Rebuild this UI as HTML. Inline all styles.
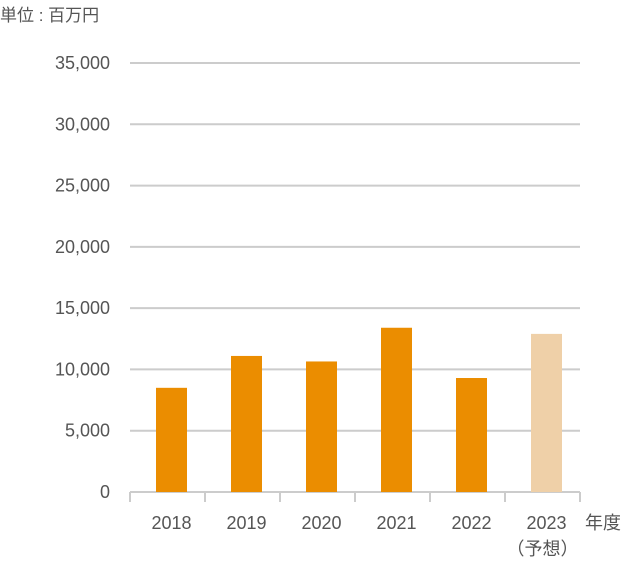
<!DOCTYPE html>
<html><head><meta charset="utf-8"><style>
body{margin:0;background:#fff;}
svg text{font-family:"Liberation Sans","Noto Sans CJK JP",sans-serif;fill:#555;}
</style></head><body>
<svg width="640" height="580">
<text x="0" y="21" font-size="17">単位 : 百万円</text>
<g id="grid"></g><g id="bars"></g><g id="xaxis"></g>
<text x="585" y="529" font-size="18">年度</text>
</svg>
<script>
const categories=["2018","2019","2020","2021","2022","2023"];
const values=[8500,11100,10650,13400,9300,12900];
const forecast=[false,false,false,false,false,true];
const yTicks=[0,5000,10000,15000,20000,25000,30000,35000];
const yTickLabels=["0","5,000","10,000","15,000","20,000","25,000","30,000","35,000"];
const NS="http://www.w3.org/2000/svg";
const y0=492,y1=63,ymax=35000,xl=130,xr=580;
const yS=v=>y0-(v/ymax)*(y0-y1);
const band=(xr-xl)/categories.length;
const xC=i=>xl+band*(i+0.5)+4;
function mk(t,a,p){const e=document.createElementNS(NS,t);for(const k in a)e.setAttribute(k,a[k]);p.appendChild(e);return e;}
const g=document.getElementById('grid');
yTicks.forEach((v,i)=>{
 const l=mk('line',{x1:xl,x2:xr,y1:yS(v),y2:yS(v),stroke:'#cccccc','stroke-width':2},g);
 
 
 const t=mk('text',{x:110,y:yS(v)+6,'text-anchor':'end','font-size':18},g);
 t.textContent=yTickLabels[i];
 
 
});
const b=document.getElementById('bars');
values.forEach((v,i)=>{
 const r=mk('rect',{x:xC(i)-15.5,y:yS(v),width:31,height:y0-yS(v),fill:forecast[i]?'#efd0a8':'#eb8d00'},b);
 
 
});
const xa=document.getElementById('xaxis');
for(let i=0;i<=categories.length;i++){
 const x=xl+band*i;
 const t=mk('line',{x1:x,x2:x,y1:y0,y2:502,stroke:'#cccccc','stroke-width':2},xa);
 
 
}
categories.forEach((c,i)=>{
 const t=mk('text',{x:xC(i),y:529,'text-anchor':'middle','font-size':18},xa);
 t.textContent=c;
 
 
 if(forecast[i]){
  const f=mk('text',{x:xC(i)-4,y:555,'text-anchor':'middle','font-size':18},xa);
  f.textContent='（予想）';
  
  
 }
});
</script>
</body></html>
